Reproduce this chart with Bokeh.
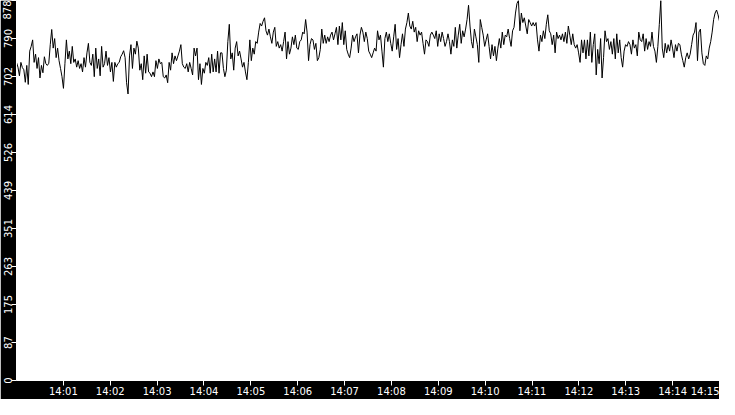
from datetime import datetime, timezone
from bokeh.plotting import figure
from bokeh.models import Range1d, FixedTicker, DatetimeTickFormatter, NumeralTickFormatter
from bokeh.embed import file_html
from bokeh.resources import INLINE

# Values, left to right (14:00:00 .. 14:15:00)
seg1 = [735,724,704,735,723,718,689,728,684,761, 772,787,735,754,721,746,699,728,711,748,
        732,728,733,776,811,768,790,746,768,739, 721,702,675,732,787,743,761,732,772,735,
        743,724,739,721,732,713,746,724,757,779, 735,728,754,702,768,721,743,704,772,724,
        732,761,728,746,713,735,691,735,724,732]
seg2 = [735,748,754,762,746,688,662,750,776,721, 768,754,784,768,717,732,695,750,710,754,
        713,710,702,713,702,739,721,743,732,735, 702,699,706,688,735,717,757,732,750,739,
        750,761,776,732,724,721,732,713,735,721, 706,768,750,768,695,732,684,721,710,735,
        728,746,710,754,713,743,713,761,710,757]
seg3 = [757,721,702,717,783,823,743,757,717,768, 783,750,761,743,724,735,713,695,735,787,
        739,768,754,783,779,805,825,819,830,838, 808,798,812,794,779,805,816,772,783,768,
        776,761,783,805,743,783,754,768,794,776, 798,768,765,783,787,805,801,834,805,739,
        776,790,787,765,779,739,746,765,812,779]
seg4 = [798,779,794,783,798,805,787,801,816,776, 819,787,827,776,808,765,754,746,768,798,
        783,794,801,757,798,816,805,783,805,790, 761,754,746,757,768,761,808,787,798,761,
        724,790,805,783,801,779,761,794,823,765, 790,746,776,801,772,812,827,849,819,812,
        830,805,816,783,808,798,805,779,754,787]
seg5 = [783,772,798,805,798,790,808,772,801,783, 805,790,772,783,801,783,754,787,772,816,
        768,798,823,779,808,794,812,834,867, 819,783,768,812,794,776,735,834,816,798,
        772,787,801,772,743,776,750,772,739,768, 790,768,805,776,798,794,812,790,772,808,
        816,849,871,878,808,849,827,838,819,801, 834]
seg6 = [827,819,827,819,827,787,761,798,783,808,790,823,845,
        808,801,776,798,757,805,790,798,787,801, 783,805,779,819,798,776,801,776,768,776,
        757,735,787,757,787,743,787,750,805,735, 776,801,706,
        765,732,790,699,746,808,783,790,765,783, 754,790,743,801,757,787,746,724,761,776,
        772,783,776,754]
seg7 = [787,768,776,750,805,787,783,801,761,790, 765,783,772,805,772,761,735,772,823,878,
        768,746,779,757,776,761,787,768,746,776, 761,779,776,754,739,724,746,757,743,754,
        776,798,805,827,739,805,812,757,732,728, 750,743,768,783,805,834,849,856,845,830]

values = seg1 + seg2 + seg3 + seg4 + seg5 + seg6 + seg7
start_time = datetime(2024, 1, 1, 14, 0, 0, tzinfo=timezone.utc)
span_minutes = 15

t0 = start_time.timestamp() * 1000.0
span_ms = span_minutes * 60000.0
n = len(values)
times = [t0 + i * span_ms / (n - 1) for i in range(n)]

ymax = max(values)

p = figure(width=719, height=399, x_axis_type="datetime",
           output_backend="svg", toolbar_location=None,
           x_range=Range1d(t0, t0 + span_ms), y_range=Range1d(0, ymax),
           min_border_left=15, min_border_bottom=15, min_border_top=0, min_border_right=0)

p.line(times, values, line_color="black", line_width=1)

p.border_fill_color = "black"
p.background_fill_color = "white"
p.outline_line_color = None
p.xgrid.visible = False
p.ygrid.visible = False

p.xaxis.ticker = FixedTicker(ticks=[t0 + 60000.0 * k for k in range(1, span_minutes + 1)])
p.xaxis.formatter = DatetimeTickFormatter(seconds="%H:%M", minsec="%H:%M", minutes="%H:%M",
                                          hourmin="%H:%M", hours="%H:%M", days="%H:%M")
p.yaxis.ticker = FixedTicker(ticks=[ymax * i / 10 for i in range(11)])
p.yaxis.formatter = NumeralTickFormatter(format="0", rounding="floor")
p.yaxis.major_label_orientation = "vertical"

for ax in (p.xaxis, p.yaxis):
    ax.axis_line_color = "white"
    ax.major_tick_line_color = "white"
    ax.minor_tick_line_color = None
    ax.major_tick_out = 5
    ax.major_tick_in = 0
    ax.major_label_text_color = "white"
    ax.major_label_text_font = "DejaVu Sans"
    ax.major_label_text_font_size = "10px"
    ax.major_label_standoff = 0

open("out.html", "w").write(file_html(p, INLINE))
